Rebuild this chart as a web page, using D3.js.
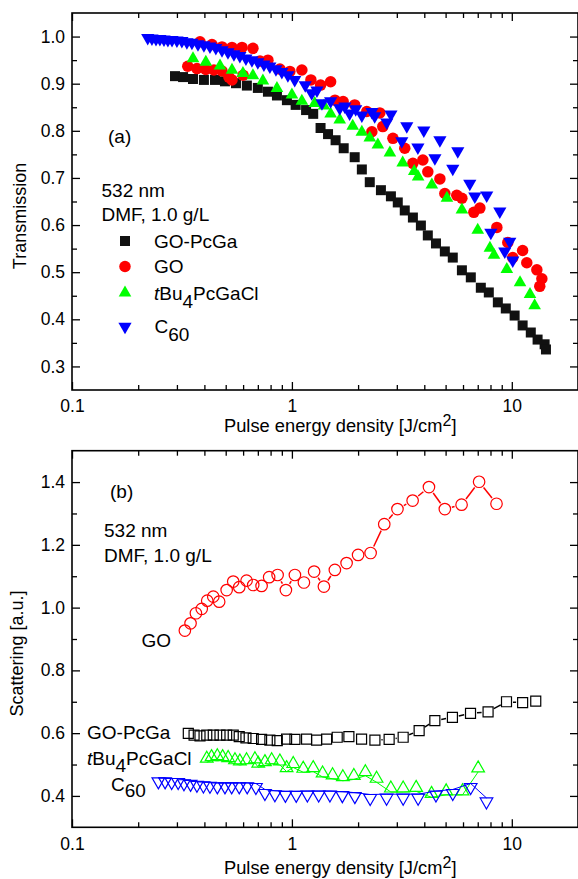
<!DOCTYPE html>
<html>
<head>
<meta charset="utf-8">
<script src="https://cdn.jsdelivr.net/npm/d3@7"></script>
<style>
  body { margin: 0; background: #fff; }
  text { font-family: "Liberation Sans", Arial, sans-serif; fill: #000; }
</style>
</head>
<body>
<div id="chart"></div>
<script>
// ---- data ----

// (a) Transmission
let tSqX = [0.294,0.320,0.355,0.398,0.447,0.496,0.557,0.624,0.700,0.778,0.855,0.949,1.04,1.16,1.25,1.35,1.46,1.58,1.72,1.93,2.08,2.26,2.54,2.82,3.03,3.26,3.55,3.86,4.15,4.52,4.96,5.39,5.93,6.51,7.23,7.86,8.64,9.39,10.3,11.2,12.2,13.1,14.1,14.3];
let tSqY = [0.916,0.914,0.910,0.908,0.908,0.905,0.901,0.896,0.891,0.883,0.875,0.865,0.855,0.844,0.836,0.806,0.793,0.780,0.763,0.744,0.718,0.691,0.674,0.661,0.648,0.631,0.616,0.599,0.578,0.561,0.544,0.531,0.504,0.489,0.467,0.457,0.436,0.423,0.408,0.387,0.372,0.357,0.347,0.336];

let tCircX = [0.336,0.370,0.382,0.406,0.433,0.442,0.481,0.481,0.517,0.534,0.534,0.593,0.600,0.665,0.716,0.778,0.882,0.979,1.11,1.22,1.35,1.50,1.57,1.71,1.93,2.19,2.31,2.51,2.59,2.88,3.26,3.55,3.94,4.15,4.71,4.96,5.62,5.93,6.72,7.16,8.55,9.59,10.1,11.2,11.7,13.0,13.7,13.4];
let tCircY = [0.937,0.932,0.989,0.930,0.983,0.929,0.927,0.978,0.914,0.908,0.977,0.977,0.918,0.975,0.948,0.950,0.931,0.926,0.929,0.908,0.897,0.904,0.865,0.862,0.855,0.841,0.798,0.838,0.809,0.784,0.763,0.731,0.738,0.713,0.698,0.667,0.663,0.657,0.627,0.636,0.595,0.563,0.531,0.546,0.520,0.505,0.486,0.470];

let tTriX = [0.355,0.406,0.471,0.534,0.599,0.665,0.738,0.855,1.00,1.11,1.27,1.40,1.50,1.65,1.89,2.08,2.26,2.46,2.79,3.19,3.60,3.75,4.33,5.07,5.93,7.00,7.95,8.30,9.49,10.9,12.1,12.7];
let tTriY = [0.957,0.950,0.942,0.933,0.926,0.921,0.910,0.894,0.880,0.867,0.862,0.857,0.840,0.827,0.814,0.801,0.789,0.774,0.757,0.736,0.718,0.706,0.689,0.661,0.636,0.593,0.555,0.540,0.510,0.482,0.457,0.433];

let tInvX = [0.221,0.231,0.241,0.251,0.262,0.273,0.285,0.300,0.316,0.333,0.351,0.374,0.398,0.424,0.451,0.481,0.512,0.545,0.580,0.618,0.658,0.700,0.746,0.794,0.846,0.900,0.959,1.03,1.15,1.23,1.30,1.37,1.50,1.65,1.74,1.83,1.95,2.08,2.31,2.38,2.70,2.82,3.16,3.33,3.74,3.98,4.47,4.71,5.39,5.68,6.44,6.79,7.69,8.03,8.82,9.29,9.79,10.1];
let tInvY = [0.993,0.992,0.991,0.991,0.990,0.989,0.989,0.988,0.987,0.984,0.983,0.980,0.978,0.975,0.972,0.967,0.963,0.959,0.955,0.950,0.946,0.942,0.937,0.933,0.927,0.921,0.914,0.904,0.893,0.876,0.882,0.855,0.859,0.844,0.848,0.833,0.842,0.829,0.836,0.827,0.814,0.831,0.774,0.806,0.761,0.797,0.738,0.776,0.716,0.753,0.684,0.657,0.659,0.580,0.625,0.540,0.561,0.521];

// (b) Scattering
let bCircX = [0.326,0.346,0.366,0.389,0.412,0.439,0.467,0.505,0.541,0.576,0.622,0.667,0.728,0.788,0.861,0.939,1.032,1.134,1.262,1.398,1.568,1.773,2.00,2.28,2.63,3.02,3.54,4.20,4.96,5.91,7.10,8.52];
let bCircY = [0.927,0.950,0.982,0.996,1.022,1.035,1.019,1.056,1.083,1.065,1.086,1.072,1.069,1.097,1.104,1.056,1.104,1.080,1.115,1.067,1.120,1.142,1.168,1.174,1.266,1.314,1.341,1.384,1.314,1.328,1.401,1.331];

let bSqX = [0.338,0.359,0.382,0.410,0.439,0.471,0.505,0.541,0.576,0.618,0.667,0.728,0.794,0.858,0.946,1.032,1.166,1.295,1.438,1.607,1.816,2.074,2.385,2.768,3.206,3.79,4.467,5.37,6.49,7.80,9.46,11.2,12.85];
let bSqY = [0.599,0.594,0.591,0.594,0.594,0.594,0.594,0.594,0.589,0.585,0.583,0.580,0.578,0.576,0.581,0.580,0.581,0.578,0.581,0.587,0.589,0.581,0.578,0.580,0.587,0.608,0.640,0.650,0.663,0.668,0.700,0.697,0.702];

let bTriX = [0.410,0.431,0.458,0.484,0.513,0.551,0.580,0.622,0.679,0.703,0.754,0.809,0.882,0.946,1.014,1.126,1.250,1.379,1.531,1.705,1.913,2.158,2.427,2.818,3.206,3.673,4.315,5.03,5.97,7.03];
let bTriY = [0.525,0.530,0.533,0.530,0.527,0.520,0.516,0.520,0.523,0.509,0.514,0.520,0.516,0.495,0.508,0.493,0.495,0.478,0.472,0.466,0.470,0.482,0.461,0.430,0.430,0.432,0.413,0.421,0.421,0.494];

let bInvX = [0.247,0.265,0.284,0.304,0.323,0.346,0.370,0.396,0.424,0.458,0.496,0.532,0.576,0.626,0.686,0.754,0.837,0.934,1.046,1.176,1.324,1.489,1.696,1.933,2.27,2.695,3.206,3.75,4.52,5.39,6.50,7.67];
let bInvY = [0.440,0.440,0.438,0.438,0.434,0.432,0.429,0.427,0.426,0.424,0.424,0.424,0.424,0.424,0.422,0.403,0.399,0.397,0.397,0.398,0.398,0.398,0.396,0.393,0.387,0.388,0.388,0.388,0.398,0.403,0.422,0.376];

// ticks
let xMajor = [0.1, 1, 10];
let xLabels = ["0.1", "1", "10"];
let xMinor = [0.2,0.3,0.4,0.5,0.6,0.7,0.8,0.9,2,3,4,5,6,7,8,9];
let yTopMajor = [0.3,0.4,0.5,0.6,0.7,0.8,0.9,1.0];
let yTopLabels = ["0.3","0.4","0.5","0.6","0.7","0.8","0.9","1.0"];
let yTopMinor = [0.35,0.45,0.55,0.65,0.75,0.85,0.95];
let yBotMajor = [0.4,0.6,0.8,1.0,1.2,1.4];
let yBotLabels = ["0.4","0.6","0.8","1.0","1.2","1.4"];
let yBotMinor = [0.5,0.7,0.9,1.1,1.3];

// ---- layout ----
let svgWidth = 578;
let svgHeight = 879;
let plotLeft = 72, plotRight = 578;
let panelA = {top: 13, bottom: 390};
let panelB = {top: 450.7, bottom: 827.3};
let font = "Liberation Sans, Arial, sans-serif";

let svg = d3.select("#chart")
    .append("svg")
    .attr("width", svgWidth)
    .attr("height", svgHeight);

let x = d3.scaleLog().domain([0.1, 20]).range([plotLeft, plotRight]);
let yA = d3.scaleLinear().domain([0.25, 1.05]).range([panelA.bottom, panelA.top]);
let yB = d3.scaleLinear().domain([0.3, 1.5]).range([panelB.bottom, panelB.top]);

// marker outlines, centred on the point
function shape(type, s) {
    let w = s * 1.15, h = s;
    if (type === "square") return `M${-s/2},${-s/2}h${s}v${s}h${-s}Z`;
    if (type === "circle") return d3.symbol(d3.symbolCircle, Math.PI * s * s / 4)();
    if (type === "up") return `M0,${-h/2}L${w/2},${h/2}L${-w/2},${h/2}Z`;
    return `M0,${h/2}L${w/2},${-h/2}L${-w/2},${-h/2}Z`;
}

function styleAxis(g) {
    g.select(".domain").remove();
    g.attr("font-size", 17.5).attr("font-family", font);
    g.selectAll("line").attr("stroke-width", 1.3);
}

function drawAxes(y, panel, yMajor, yLabels, yMinor) {
    let b = panel.bottom, t = panel.top;
    // bottom
    svg.append("g").attr("transform", `translate(0,${b})`)
        .call(d3.axisBottom(x).tickValues(xMajor).tickSize(-8).tickPadding(10)
            .tickFormat((d, i) => xLabels[i]))
        .call(styleAxis);
    svg.append("g").attr("transform", `translate(0,${b})`)
        .call(d3.axisBottom(x).tickValues(xMinor).tickSize(-5).tickFormat(""))
        .call(styleAxis);
    // top
    svg.append("g").attr("transform", `translate(0,${t})`)
        .call(d3.axisTop(x).tickValues(xMajor).tickSize(-8).tickFormat(""))
        .call(styleAxis);
    svg.append("g").attr("transform", `translate(0,${t})`)
        .call(d3.axisTop(x).tickValues(xMinor).tickSize(-5).tickFormat(""))
        .call(styleAxis);
    // left
    svg.append("g").attr("transform", `translate(${plotLeft},0)`)
        .call(d3.axisLeft(y).tickValues(yMajor).tickSize(-8).tickPadding(7)
            .tickFormat((d, i) => yLabels[i]))
        .call(styleAxis);
    svg.append("g").attr("transform", `translate(${plotLeft},0)`)
        .call(d3.axisLeft(y).tickValues(yMinor).tickSize(-5).tickFormat(""))
        .call(styleAxis);
    // right
    svg.append("g").attr("transform", `translate(${plotRight},0)`)
        .call(d3.axisRight(y).tickValues(yMajor).tickSize(-8).tickFormat(""))
        .call(styleAxis);
    svg.append("g").attr("transform", `translate(${plotRight},0)`)
        .call(d3.axisRight(y).tickValues(yMinor).tickSize(-5).tickFormat(""))
        .call(styleAxis);
    // frame
    svg.append("rect")
        .attr("x", plotLeft).attr("y", t)
        .attr("width", plotRight - plotLeft).attr("height", b - t)
        .attr("fill", "none").attr("stroke", "#000").attr("stroke-width", 1.6);
}

function xTitle(baseline) {
    let t = svg.append("text").attr("x", 224).attr("y", baseline)
        .attr("font-size", 18.3);
    t.append("tspan").text("Pulse energy density [J/cm");
    t.append("tspan").attr("dy", -6).attr("font-size", 16).text("2");
    t.append("tspan").attr("dy", 6).text("]");
}

function label(xp, yp, str, size) {
    return svg.append("text").attr("x", xp).attr("y", yp)
        .attr("font-size", size || 19).text(str);
}

// filled markers (panel a)
function filled(xs, ys, type, size, color) {
    svg.append("g").selectAll("path")
        .data(xs.map((v, i) => [v, ys[i]]))
        .join("path")
        .attr("transform", d => `translate(${x(d[0])},${yA(d[1])})`)
        .attr("d", shape(type, size))
        .attr("fill", color);
}

// open markers with a connecting line that stops short of each symbol (panel b)
function open(xs, ys, type, size, color) {
    let pts = xs.map((v, i) => [x(v), yB(ys[i])]);
    let g = svg.append("g");
    if (type === "up" || type === "down") {
        // line runs along the flat edge of the triangles
        let off = type === "up" ? size / 2 : -size / 2;
        g.append("path")
            .attr("d", d3.line()(pts.map(p => [p[0], p[1] + off])))
            .attr("fill", "none").attr("stroke", color).attr("stroke-width", 1);
    } else {
        let gap = size / 2 + 1.5;
        for (let i = 1; i < pts.length; i++) {
            let [x0, y0] = pts[i - 1], [x1, y1] = pts[i];
            let len = Math.hypot(x1 - x0, y1 - y0);
            if (len <= 2 * gap + 1) continue;
            let ux = (x1 - x0) / len, uy = (y1 - y0) / len;
            g.append("line")
                .attr("x1", x0 + ux * gap).attr("y1", y0 + uy * gap)
                .attr("x2", x1 - ux * gap).attr("y2", y1 - uy * gap)
                .attr("stroke", color).attr("stroke-width", 1.5);
        }
    }
    g.selectAll("path.m")
        .data(pts)
        .join("path")
        .attr("class", "m")
        .attr("transform", d => `translate(${d[0]},${d[1]})`)
        .attr("d", shape(type, size))
        .attr("fill", "none").attr("stroke", color).attr("stroke-width", 1.2);
}

// ---- panel (a) ----
drawAxes(yA, panelA, yTopMajor, yTopLabels, yTopMinor);
filled(tSqX, tSqY, "square", 10, "#111");
filled(tCircX, tCircY, "circle", 11.5, "#ff0000");
filled(tTriX, tTriY, "up", 11, "#00ff00");
filled(tInvX, tInvY, "down", 11.5, "#0000ff");

label(108, 143, "(a)");
label(101.5, 197, "532 nm");
label(101.5, 221, "DMF, 1.0 g/L");

// legend markers
let legend = [
    {type: "square", color: "#111", y: 241, size: 10},
    {type: "circle", color: "#ff0000", y: 266.5, size: 11.5},
    {type: "up", color: "#00ff00", y: 291, size: 11},
    {type: "down", color: "#0000ff", y: 328.5, size: 11.5}
];
legend.forEach(l => {
    svg.append("path")
        .attr("transform", `translate(125,${l.y})`)
        .attr("d", shape(l.type, l.size))
        .attr("fill", l.color);
});
label(154, 248, "GO-PcGa");
label(154, 273, "GO");
let tb = label(154, 300, "");
tb.append("tspan").attr("font-style", "italic").text("t");
tb.append("tspan").text("Bu");
tb.append("tspan").attr("dy", 8).text("4");
tb.append("tspan").attr("dy", -8).text("PcGaCl");
let c6 = label(154.5, 333, "");
c6.append("tspan").text("C");
c6.append("tspan").attr("dy", 8).text("60");

xTitle(432);
svg.append("text")
    .attr("transform", "translate(25.5,216) rotate(-90)")
    .attr("text-anchor", "middle").attr("font-size", 18)
    .text("Transmission");

// ---- panel (b) ----
drawAxes(yB, panelB, yBotMajor, yBotLabels, yBotMinor);
open(bCircX, bCircY, "circle", 11.5, "#ff0000");
open(bSqX, bSqY, "square", 10, "#000");
open(bTriX, bTriY, "up", 11, "#00ff00");
open(bInvX, bInvY, "down", 11, "#0000ff");

label(110, 498, "(b)");
label(104, 536.5, "532 nm");
label(104, 561.5, "DMF, 1.0 g/L");
label(141.5, 646.5, "GO");
label(87, 739, "GO-PcGa");
let tb2 = label(87, 765, "");
tb2.append("tspan").attr("font-style", "italic").text("t");
tb2.append("tspan").text("Bu");
tb2.append("tspan").attr("dy", 6.5).text("4");
tb2.append("tspan").attr("dy", -6.5).text("PcGaCl");
let c62 = label(111, 790.5, "");
c62.append("tspan").text("C");
c62.append("tspan").attr("dy", 6.5).text("60");

xTitle(874);
svg.append("text")
    .attr("transform", "translate(23,653.5) rotate(-90)")
    .attr("text-anchor", "middle").attr("font-size", 18)
    .text("Scattering [a.u.]");
</script>
</body>
</html>
